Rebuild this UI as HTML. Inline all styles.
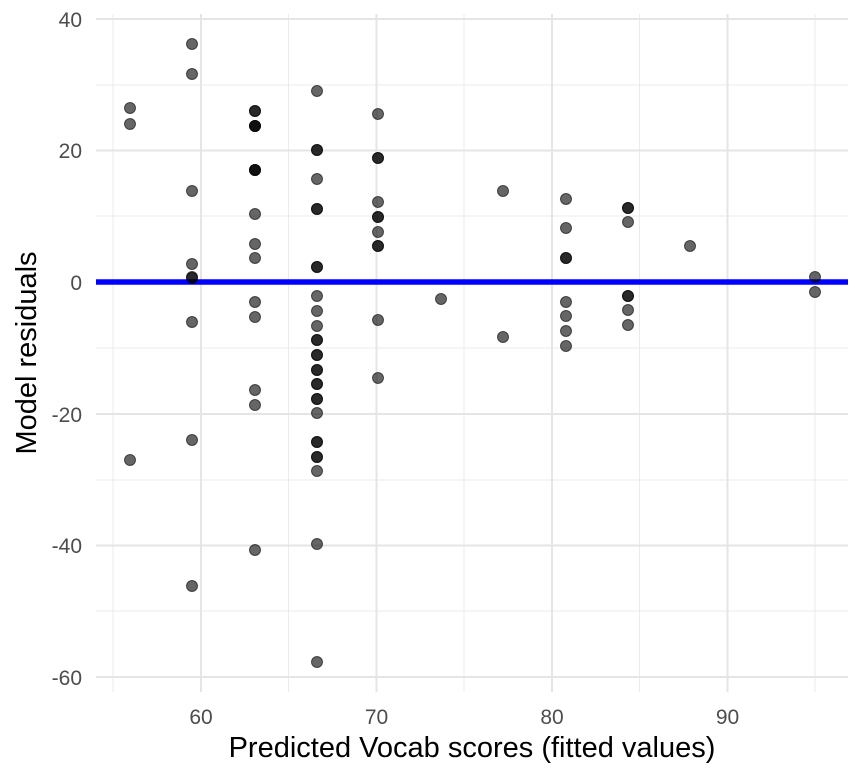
<!DOCTYPE html>
<html><head><style>body{margin:0;background:#fff}svg{display:block}text{font-family:"Liberation Sans",sans-serif}</style></head><body>
<svg width="864" height="777" xmlns="http://www.w3.org/2000/svg">
<g stroke="#ebebeb" stroke-width="1">
<line x1="96" x2="848" y1="85" y2="85"/><line x1="96" x2="848" y1="216" y2="216"/><line x1="96" x2="848" y1="348" y2="348"/><line x1="96" x2="848" y1="480" y2="480"/><line x1="96" x2="848" y1="611" y2="611"/>
<line x1="113" x2="113" y1="14" y2="692"/><line x1="288.5" x2="288.5" y1="14" y2="692"/><line x1="464" x2="464" y1="14" y2="692"/><line x1="639.5" x2="639.5" y1="14" y2="692"/><line x1="815" x2="815" y1="14" y2="692"/>
</g>
<g stroke="#e5e5e5" stroke-width="2">
<line x1="96" x2="848" y1="19" y2="19"/><line x1="96" x2="848" y1="150.5" y2="150.5"/><line x1="96" x2="848" y1="282" y2="282"/><line x1="96" x2="848" y1="414" y2="414"/><line x1="96" x2="848" y1="545.5" y2="545.5"/><line x1="96" x2="848" y1="677" y2="677"/>
<line x1="201" x2="201" y1="14" y2="692"/><line x1="376.5" x2="376.5" y1="14" y2="692"/><line x1="552" x2="552" y1="14" y2="692"/><line x1="727.5" x2="727.5" y1="14" y2="692"/>
</g>
<g font-size="21" fill="#4d4d4d" text-anchor="end">
<text x="82" y="27">40</text><text x="82" y="158">20</text><text x="82" y="290">0</text><text x="82" y="422">-20</text><text x="82" y="553">-40</text><text x="82" y="685">-60</text>
</g>
<g font-size="21" fill="#4d4d4d" text-anchor="middle">
<text x="201" y="724">60</text><text x="376.5" y="724">70</text><text x="552" y="724">80</text><text x="727.5" y="724">90</text>
</g>
<text x="472" y="757" font-size="29" text-anchor="middle" fill="#000">Predicted Vocab scores (fitted values)</text>
<text transform="translate(36,353) rotate(-90)" font-size="29" text-anchor="middle" fill="#000">Model residuals</text>
<line x1="96" x2="848" y1="282" y2="282" stroke="#0000ff" stroke-width="5.5"/>
<g fill="#000" fill-opacity="0.6" stroke="#000" stroke-opacity="0.6" stroke-width="1">
<circle cx="130" cy="108" r="5.5"/><circle cx="130" cy="124" r="5.5"/><circle cx="130" cy="460" r="5.5"/>
<circle cx="192" cy="44" r="5.5"/><circle cx="192" cy="74" r="5.5"/><circle cx="192" cy="191" r="5.5"/><circle cx="192" cy="264" r="5.5"/><circle cx="192" cy="277" r="5.5"/><circle cx="192" cy="278" r="5.5"/><circle cx="192" cy="322" r="5.5"/><circle cx="192" cy="440" r="5.5"/><circle cx="192" cy="586" r="5.5"/>
<circle cx="255" cy="111" r="5.5"/><circle cx="255" cy="111" r="5.5"/><circle cx="255" cy="126" r="5.5"/><circle cx="255" cy="126" r="5.5"/><circle cx="255" cy="126" r="5.5"/><circle cx="255" cy="170" r="5.5"/><circle cx="255" cy="170" r="5.5"/><circle cx="255" cy="170" r="5.5"/><circle cx="255" cy="214" r="5.5"/><circle cx="255" cy="244" r="5.5"/><circle cx="255" cy="258" r="5.5"/><circle cx="255" cy="302" r="5.5"/><circle cx="255" cy="317" r="5.5"/><circle cx="255" cy="390" r="5.5"/><circle cx="255" cy="405" r="5.5"/><circle cx="255" cy="550" r="5.5"/>
<circle cx="317" cy="91" r="5.5"/><circle cx="317" cy="150" r="5.5"/><circle cx="317" cy="150" r="5.5"/><circle cx="317" cy="179" r="5.5"/><circle cx="317" cy="209" r="5.5"/><circle cx="317" cy="209" r="5.5"/><circle cx="317" cy="267" r="5.5"/><circle cx="317" cy="267" r="5.5"/><circle cx="317" cy="296" r="5.5"/><circle cx="317" cy="311" r="5.5"/><circle cx="317" cy="326" r="5.5"/><circle cx="317" cy="340" r="5.5"/><circle cx="317" cy="340" r="5.5"/><circle cx="317" cy="355" r="5.5"/><circle cx="317" cy="355" r="5.5"/><circle cx="317" cy="370" r="5.5"/><circle cx="317" cy="370" r="5.5"/><circle cx="317" cy="384" r="5.5"/><circle cx="317" cy="384" r="5.5"/><circle cx="317" cy="399" r="5.5"/><circle cx="317" cy="399" r="5.5"/><circle cx="317" cy="413" r="5.5"/><circle cx="317" cy="442" r="5.5"/><circle cx="317" cy="442" r="5.5"/><circle cx="317" cy="457" r="5.5"/><circle cx="317" cy="457" r="5.5"/><circle cx="317" cy="471" r="5.5"/><circle cx="317" cy="544" r="5.5"/><circle cx="317" cy="662" r="5.5"/>
<circle cx="378" cy="114" r="5.5"/><circle cx="378" cy="158" r="5.5"/><circle cx="378" cy="158" r="5.5"/><circle cx="378" cy="202" r="5.5"/><circle cx="378" cy="217" r="5.5"/><circle cx="378" cy="217" r="5.5"/><circle cx="378" cy="232" r="5.5"/><circle cx="378" cy="246" r="5.5"/><circle cx="378" cy="246" r="5.5"/><circle cx="378" cy="320" r="5.5"/><circle cx="378" cy="378" r="5.5"/>
<circle cx="441" cy="299" r="5.5"/>
<circle cx="503" cy="191" r="5.5"/><circle cx="503" cy="337" r="5.5"/>
<circle cx="566" cy="199" r="5.5"/><circle cx="566" cy="228" r="5.5"/><circle cx="566" cy="258" r="5.5"/><circle cx="566" cy="258" r="5.5"/><circle cx="566" cy="302" r="5.5"/><circle cx="566" cy="316" r="5.5"/><circle cx="566" cy="331" r="5.5"/><circle cx="566" cy="346" r="5.5"/>
<circle cx="628" cy="208" r="5.5"/><circle cx="628" cy="208" r="5.5"/><circle cx="628" cy="222" r="5.5"/><circle cx="628" cy="296" r="5.5"/><circle cx="628" cy="296" r="5.5"/><circle cx="628" cy="310" r="5.5"/><circle cx="628" cy="325" r="5.5"/>
<circle cx="690" cy="246" r="5.5"/>
<circle cx="815" cy="277" r="5.5"/><circle cx="815" cy="292" r="5.5"/>
</g>
</svg>
</body></html>
